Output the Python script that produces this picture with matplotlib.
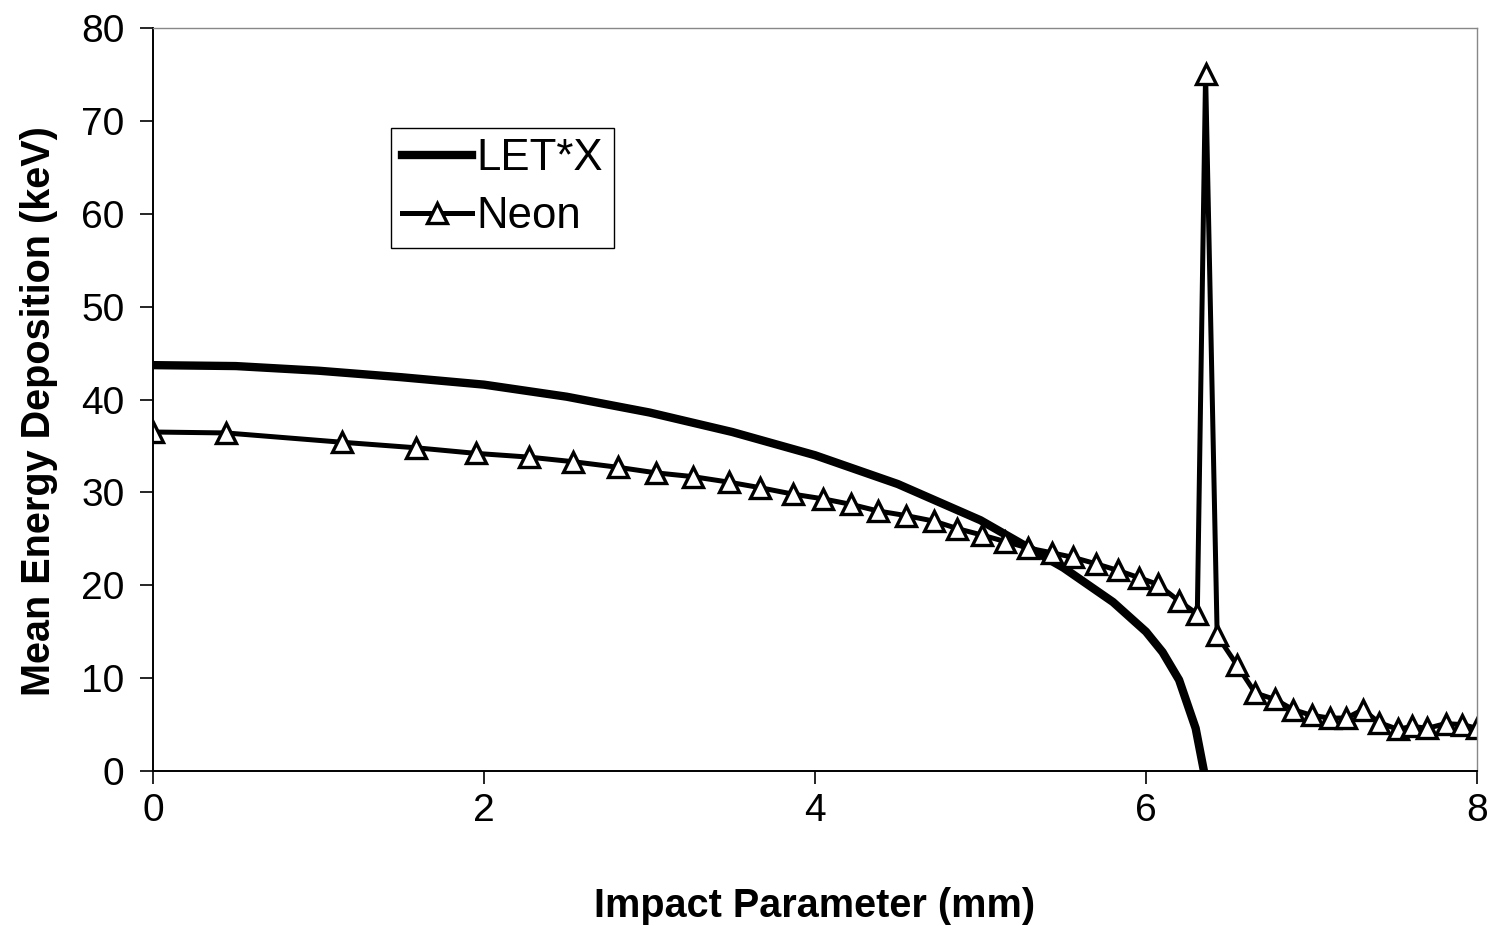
import matplotlib
matplotlib.use("Agg")
import matplotlib.pyplot as plt

plt.rcParams['font.family'] = ['Liberation Sans', 'DejaVu Sans']

# LET*X curve
let_x = [0, 0.5, 1.0, 1.5, 2.0, 2.5, 3.0, 3.5, 4.0, 4.5, 5.0, 5.5, 5.8, 6.0, 6.1, 6.2, 6.3, 6.35]
let_y = [43.7, 43.6, 43.1, 42.4, 41.6, 40.3, 38.6, 36.5, 34.0, 30.9, 27.0, 21.9, 18.2, 15.0, 12.8, 9.8, 4.6, 0.0]

# Neon points
neon_x = [0.0, 0.44, 1.14, 1.59, 1.95, 2.27, 2.54, 2.81, 3.04, 3.26, 3.48, 3.67, 3.87,
          4.05, 4.22, 4.38, 4.55, 4.72, 4.86, 5.01, 5.15, 5.29, 5.43, 5.56, 5.70, 5.83,
          5.96, 6.07, 6.20, 6.31, 6.36, 6.43, 6.55, 6.66, 6.78, 6.89, 7.00, 7.11, 7.21,
          7.31, 7.41, 7.52, 7.61, 7.70, 7.81, 7.91, 8.00]
neon_y = [36.5, 36.4, 35.4, 34.8, 34.2, 33.8, 33.3, 32.7, 32.1, 31.7, 31.1, 30.5, 29.8,
          29.3, 28.7, 28.0, 27.5, 26.9, 26.1, 25.4, 24.7, 24.0, 23.5, 23.0, 22.3, 21.6,
          20.8, 20.1, 18.3, 16.9, 75.1, 14.6, 11.4, 8.4, 7.7, 6.6, 6.0, 5.7, 5.7,
          6.6, 5.2, 4.5, 4.8, 4.6, 5.1, 5.0, 4.6]

x_ticks = [0, 2, 4, 6, 8]
y_ticks = [0, 10, 20, 30, 40, 50, 60, 70, 80]

fig = plt.figure(figsize=(14.92, 9.26), dpi=100)
ax = fig.add_axes([153/1492, 1 - 771/926, (1477-153)/1492, (771-28)/926])

ax.plot(let_x, let_y, color='black', lw=6, label='LET*X')
ax.plot(neon_x, neon_y, color='black', lw=3.6, marker='^', markersize=14,
        markerfacecolor='white', markeredgecolor='black', markeredgewidth=2.4,
        label='Neon')

ax.set_xlim(0, 8)
ax.set_ylim(0, 80)
ax.set_xticks(x_ticks)
ax.set_yticks(y_ticks)
ax.tick_params(labelsize=28, length=9.5, width=1.2, direction='out', pad=11)
ax.tick_params(axis='x', pad=6)

for side in ['top', 'right']:
    ax.spines[side].set_color('#888888')
    ax.spines[side].set_linewidth(1.0)
for side in ['left', 'bottom']:
    ax.spines[side].set_linewidth(1.4)

ax.set_xlabel('Impact Parameter (mm)', fontsize=28.5, fontweight='bold', labelpad=42)
ax.set_ylabel('Mean Energy Deposition (keV)', fontsize=28.5, fontweight='bold')
ax.yaxis.set_label_coords(-0.072, 0.484)

leg = ax.legend(loc='upper left', bbox_to_anchor=(0.18, 0.866), fontsize=31.5,
                frameon=True, fancybox=False, framealpha=1, edgecolor='black',
                handlelength=1.6, handletextpad=0.1, borderpad=0.25,
                labelspacing=0.38, borderaxespad=0)
leg.get_frame().set_linewidth(1.0)

fig.savefig('out.png', dpi=100)
